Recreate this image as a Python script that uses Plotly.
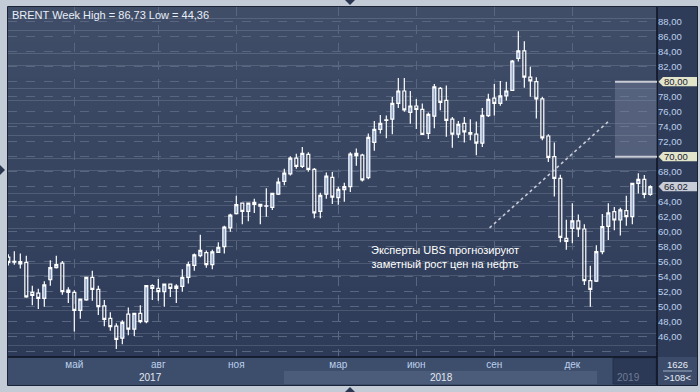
import pandas as pd
import plotly.graph_objects as go

# ---------------- data (weekly BRENT candles, Feb 2017 - Mar 2019) ----------------
week_start = "2017-02-13"
n_weeks = 108

opens = [
    56.6, 55.95, 56.0, 55.9, 51.9, 51.8, 51.1, 53.6, 55.2, 55.8, 52.2,
    51.9, 49.5, 50.9, 53.9, 52.3, 50.1, 48.45, 47.4, 45.8, 49.0,
    47.0, 49.1, 48.0, 52.8, 52.45, 52.0, 53.0, 52.75, 52.7, 53.9,
    55.5, 56.8, 57.2, 55.6, 57.25, 58.0, 60.5, 62.4, 63.8, 62.7,
    63.9, 63.65, 63.4, 63.25, 65.0, 66.7, 67.7, 69.8, 68.7, 70.3,
    68.3, 62.7, 65.0, 67.25, 64.54, 65.6, 66.0, 70.45, 70.2, 67.2,
    71.9, 73.65, 74.85, 75.0, 77.1, 78.76, 75.9, 76.76, 76.3, 73.1,
    75.4, 79.1, 77.5, 75.0, 73.0, 74.45, 73.2, 73.0, 71.8, 75.47,
    77.8, 77.1, 78.1, 78.85, 83.1, 84.1, 80.6, 80.0, 77.7, 72.76,
    70.0, 67.1, 59.1, 60.45, 61.43, 60.36, 53.47, 53.4, 57.34, 60.7,
    62.67, 61.56, 62.8, 62.0, 66.45, 66.98, 64.98,
]
closes = [
    55.9, 56.05, 55.7, 51.3, 51.5, 51.1, 52.9, 55.2, 55.6, 52.0, 51.9,
    49.5, 51.0, 53.9, 52.3, 50.0, 48.3, 47.35, 45.65, 47.9, 47.0,
    49.1, 48.0, 52.8, 52.45, 52.0, 53.0, 52.45, 52.45, 53.9, 55.6,
    56.9, 57.5, 55.6, 57.3, 57.9, 60.6, 62.2, 63.6, 62.7, 63.8,
    63.65, 63.4, 63.45, 65.1, 66.6, 67.8, 69.8, 68.7, 70.45, 68.3,
    62.5, 64.85, 67.4, 64.6, 65.65, 66.0, 70.36, 70.15, 66.9, 72.58,
    73.65, 74.45, 74.9, 77.1, 78.76, 76.23, 76.76, 76.3, 72.98, 75.65,
    79.3, 77.25, 74.85, 73.0, 74.3, 73.3, 73.0, 71.8, 75.5, 77.65,
    77.1, 78.1, 78.76, 82.76, 84.1, 80.6, 80.1, 77.7, 72.5, 69.9,
    67.1, 59.25, 58.7, 61.43, 60.36, 53.47, 52.3, 57.34, 60.67, 62.5,
    61.56, 62.9, 62.0, 66.45, 66.98, 64.98, 66.02,
]
highs = [
    57.0, 57.4, 57.1, 56.8, 52.8, 52.4, 53.4, 56.2, 56.8, 56.1, 52.6,
    52.2, 51.1, 54.0, 54.8, 52.8, 50.9, 49.25, 47.8, 48.2, 49.9,
    49.2, 50.2, 52.85, 53.0, 53.7, 53.05, 53.1, 53.0, 55.0, 56.0,
    57.1, 59.6, 57.5, 57.6, 58.6, 60.8, 62.4, 64.8, 63.9, 63.9,
    64.4, 63.7, 65.8, 65.2, 67.2, 68.4, 70.05, 70.4, 71.3, 70.6,
    68.5, 65.2, 67.9, 67.96, 66.0, 66.54, 70.58, 71.1, 70.4, 73.1,
    74.76, 75.56, 75.5, 77.96, 80.49, 80.49, 78.76, 77.7, 77.1, 75.9,
    79.7, 79.3, 79.5, 75.3, 74.76, 75.3, 75.0, 74.7, 76.5, 78.4,
    79.7, 80.1, 80.0, 82.9, 86.73, 85.4, 82.0, 80.6, 78.0, 73.0,
    71.9, 67.6, 61.6, 63.78, 62.3, 60.98, 55.47, 58.2, 62.36, 63.8,
    63.3, 63.2, 64.8, 66.5, 67.8, 67.56, 66.2,
]
lows = [
    55.5, 55.6, 55.1, 51.2, 50.2, 49.7, 50.0, 52.8, 55.1, 51.6, 50.5,
    46.7, 48.4, 50.8, 50.8, 48.9, 47.4, 46.8, 44.36, 45.0, 46.2,
    46.1, 47.8, 47.8, 50.9, 50.8, 50.0, 51.3, 50.5, 52.0, 53.1,
    54.8, 56.6, 55.2, 55.0, 57.2, 57.1, 60.0, 62.3, 61.0, 61.4,
    62.5, 61.0, 62.0, 62.9, 64.9, 66.2, 67.5, 68.4, 68.5, 68.0,
    61.8, 61.8, 64.4, 63.7, 63.6, 64.0, 65.3, 68.8, 66.7, 67.0,
    70.8, 73.1, 72.45, 72.98, 76.5, 76.0, 74.4, 73.7, 72.9, 72.36,
    73.8, 76.2, 72.67, 71.2, 72.5, 71.9, 72.2, 70.2, 71.3, 75.3,
    75.5, 76.8, 77.5, 78.8, 82.7, 79.2, 78.0, 75.1, 72.2, 69.3,
    64.7, 58.6, 57.6, 58.45, 59.3, 52.9, 50.0, 53.3, 57.0, 58.9,
    60.2, 59.5, 60.8, 60.98, 65.1, 64.45, 64.8,
]

month_tick_dates = ["2017-05-01", "2017-08-07", "2017-11-06", "2018-03-05",
                    "2018-06-04", "2018-09-03", "2018-12-03"]
month_tick_labels = ["май", "авг", "ноя", "мар", "июн", "сен", "дек"]
year_labels = ["2017", "2018", "2019"]

price_ticks = list(range(44, 90, 2))
hidden_price_ticks = [44, 66, 70, 80]
price_tick_labels = ["" if v in hidden_price_ticks else f"{v},00" for v in price_ticks]

marked_levels = [80, 70]
last_close_label = "66,02"

title_text = "BRENT Week High = 86,73 Low = 44,36"
note_lines = ["Эксперты UBS прогнозируют", "заметный рост цен на нефть"]

dates = pd.date_range(week_start, periods=n_weeks, freq="7D")

# ---------------- geometry helpers (pixel -> paper) ----------------
L, R, T, B = 8, 657, 7, 357
def px(x):
    return (x - L) / (R - L)
def py(y):
    return (B - y) / (B - T)

x_range = [pd.Timestamp("2017-02-12 15:30"), pd.Timestamp("2019-03-11 19:00")]
y_range = [43.29, 89.96]

FONT = "Liberation Sans, Arial, sans-serif"

fig = go.Figure(go.Candlestick(
    x=dates, open=opens, high=highs, low=lows, close=closes,
    increasing=dict(line=dict(color="#ffffff", width=1.2), fillcolor="#8ea6cf"),
    decreasing=dict(line=dict(color="#ffffff", width=1.2), fillcolor="rgba(0,0,0,0)"),
    whiskerwidth=0, hoverinfo="skip", showlegend=False,
))

shapes = []

# plot background gradient
def lerp(c1, c2, t):
    return tuple(round(a + (b - a) * t) for a, b in zip(c1, c2))
top_c, bot_c = (64, 77, 103), (45, 59, 89)
nb = 30
for k in range(nb):
    c = lerp(top_c, bot_c, k / (nb - 1))
    shapes.append(dict(type="rect", xref="paper", yref="paper",
                       x0=0, x1=1, y0=1 - (k + 1) / nb, y1=1 - k / nb,
                       fillcolor="rgb(%d,%d,%d)" % c, line=dict(width=0), layer="below"))

# right price panel
shapes.append(dict(type="rect", xref="paper", yref="paper", x0=px(657), x1=px(697),
                   y0=py(385), y1=py(7), fillcolor="#2e3c59", line=dict(width=0), layer="below"))
# bottom time panel
shapes.append(dict(type="rect", xref="paper", yref="paper", x0=px(8), x1=px(657),
                   y0=py(385), y1=py(357), fillcolor="#3d4e6c", line=dict(width=0), layer="below"))
shapes.append(dict(type="rect", xref="paper", yref="paper", x0=px(284), x1=px(597),
                   y0=py(384), y1=py(371), fillcolor="#4b5c7b", line=dict(width=0), layer="below"))
shapes.append(dict(type="rect", xref="paper", yref="paper", x0=px(613), x1=px(656),
                   y0=py(384), y1=py(358), fillcolor="#2b3956",
                   line=dict(width=1, color="#243049"), layer="below"))
# bottom-right info box
shapes.append(dict(type="rect", xref="paper", yref="paper", x0=px(658), x1=px(697),
                   y0=py(385), y1=py(357), fillcolor="#3b4b69", line=dict(width=0), layer="below"))
shapes.append(dict(type="line", xref="paper", yref="paper", x0=px(663), x1=px(692),
                   y0=py(371), y1=py(371), line=dict(width=1, color="#9fb0c8")))
# dark frame lines
shapes.append(dict(type="line", xref="paper", yref="paper", x0=px(657), x1=px(657),
                   y0=py(385), y1=py(6.5), line=dict(width=1.5, color="#0d1220")))
shapes.append(dict(type="line", xref="paper", yref="paper", x0=px(7.5), x1=px(657),
                   y0=py(357), y1=py(357), line=dict(width=1.5, color="#0d1220")))
shapes.append(dict(type="rect", xref="paper", yref="paper", x0=px(7.5), x1=px(697.5),
                   y0=py(385.5), y1=py(6.5), line=dict(width=1, color="#1b2336")))
# small navigation arrows
shapes.append(dict(type="path", xref="paper", yref="paper",
                   path=f"M {px(345)},{py(0)} L {px(355)},{py(0)} L {px(350)},{py(5)} Z",
                   fillcolor="#2b3650", line=dict(width=0)))
shapes.append(dict(type="path", xref="paper", yref="paper",
                   path=f"M {px(345)},{py(392)} L {px(355)},{py(392)} L {px(350)},{py(387)} Z",
                   fillcolor="#2b3650", line=dict(width=0)))
shapes.append(dict(type="path", xref="paper", yref="paper",
                   path=f"M {px(0)},{py(165)} L {px(0)},{py(175)} L {px(5)},{py(170)} Z",
                   fillcolor="#2b3650", line=dict(width=0)))

# forecast zone (70-80)
zone_x0 = pd.Timestamp("2019-01-21 18:00")
shapes.append(dict(type="rect", xref="x", yref="y", x0=zone_x0, x1=x_range[1],
                   y0=min(marked_levels), y1=max(marked_levels),
                   fillcolor="rgba(140,150,175,0.33)", line=dict(width=0), layer="above"))
for lv in marked_levels:
    shapes.append(dict(type="line", xref="x", yref="y", x0=zone_x0, x1=x_range[1],
                       y0=lv, y1=lv, line=dict(width=2, color="#c9ccd4")))
# dotted trend line
shapes.append(dict(type="line", xref="x", yref="y",
                   x0=pd.Timestamp("2018-08-28 10:00"), y0=60.5,
                   x1=pd.Timestamp("2019-01-16 02:00"), y1=74.9,
                   line=dict(width=1.5, color="#c8ccd6", dash="dot")))

# price markers on the right axis
def marker(level, fill):
    h = 0.62
    return dict(type="path", xref="paper", yref="y",
                path=(f"M {px(658.5)},{level} L {px(663)},{level + h} L {px(697)},{level + h} "
                      f"L {px(697)},{level - h} L {px(663)},{level - h} Z"),
                fillcolor=fill, line=dict(width=0), layer="above")
for lv in marked_levels:
    shapes.append(marker(lv, "#e3e5cb"))
shapes.append(marker(closes[-1], "#c9cdd7"))

annotations = []
annotations.append(dict(text=title_text, xref="paper", yref="paper", x=px(10), y=py(15),
                        xanchor="left", yanchor="middle", showarrow=False,
                        font=dict(family=FONT, size=11, color="#e8eef8")))
annotations.append(dict(text="<br>".join(note_lines), xref="paper", yref="paper", x=px(445),
                        y=py(257), xanchor="center", yanchor="middle", align="center",
                        showarrow=False, font=dict(family=FONT, size=11, color="#ffffff")))
for lv in marked_levels:
    annotations.append(dict(text=f"{lv},00", xref="paper", yref="y", x=px(662), y=lv,
                            xanchor="left", yanchor="middle", showarrow=False,
                            font=dict(family=FONT, size=9.5, color="#1b2230")))
annotations.append(dict(text=last_close_label, xref="paper", yref="y", x=px(662), y=closes[-1],
                        xanchor="left", yanchor="middle", showarrow=False,
                        font=dict(family=FONT, size=9.5, color="#1b2230")))
# year labels
for txt, xx, col in zip(year_labels, [150, 441, 628], ["#e2e8f2", "#e2e8f2", "#6e7c95"]):
    annotations.append(dict(text=txt, xref="paper", yref="paper", x=px(xx), y=py(377.5),
                            xanchor="center", yanchor="middle", showarrow=False,
                            font=dict(family=FONT, size=10, color=col)))
# info box
annotations.append(dict(text="1626", xref="paper", yref="paper", x=px(677.5), y=py(364),
                        xanchor="center", yanchor="middle", showarrow=False,
                        font=dict(family=FONT, size=9.5, color="#e6ecf6")))
annotations.append(dict(text="&gt;108&lt;", xref="paper", yref="paper", x=px(677.5), y=py(377.5),
                        xanchor="center", yanchor="middle", showarrow=False,
                        font=dict(family=FONT, size=9.5, color="#e6ecf6")))

fig.update_layout(
    width=700, height=392,
    margin=dict(l=L, r=700 - R, t=T, b=392 - B, pad=0),
    paper_bgcolor="#c3cbd7", plot_bgcolor="rgba(0,0,0,0)",
    shapes=shapes, annotations=annotations,
    showlegend=False, hovermode=False,
    font=dict(family=FONT),
    xaxis=dict(type="date", range=x_range, rangeslider=dict(visible=False),
               tickvals=month_tick_dates, ticktext=month_tick_labels,
               showgrid=True, gridcolor="#58667f", griddash="dash", gridwidth=1,
               ticks="", showline=False, zeroline=False, fixedrange=True,
               tickfont=dict(family=FONT, size=10, color="#bcd0ee")),
    yaxis=dict(range=y_range, side="right", tickvals=price_ticks, ticktext=price_tick_labels,
               showgrid=True, gridcolor="#58667f", griddash="dash", gridwidth=1,
               ticks="", showline=False, zeroline=False, fixedrange=True,
               tickfont=dict(family=FONT, size=9.5, color="#bcd0ee")),
)

fig.write_html("out.html", config={"displayModeBar": False},
               post_script="document.body.style.margin='0';document.body.style.padding='0';"
                           "document.body.style.overflow='hidden';")
